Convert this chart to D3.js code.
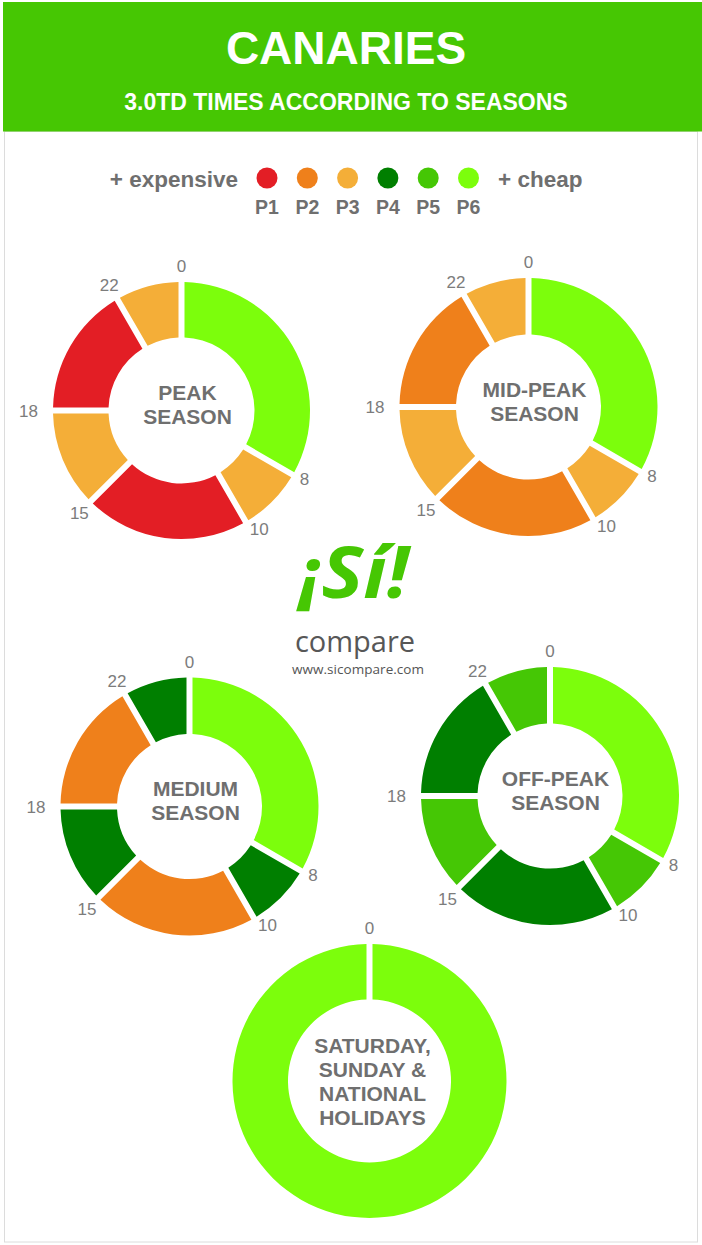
<meta charset="utf-8">
<style>
    body { margin: 0; background: #ffffff; }
    text { font-family: "Liberation Sans", Arial, sans-serif; }
</style>
<body>
<script src="https://d3js.org/d3.v7.min.js"></script>
<script>

    // ---- data ----
    const title = "CANARIES";
    const subtitle = "3.0TD TIMES ACCORDING TO SEASONS";

    const periods = ["P1", "P2", "P3", "P4", "P5", "P6"];
    const periodColors = ["#e31e25", "#ef801b", "#f4ae38", "#007f00", "#45c705", "#7cfe0c"];

    // hour boundaries of the day, the periods between them
    const hourBreaks = [0, 8, 10, 15, 18, 22, 24];
    const peakSeason = ["P6", "P3", "P1", "P3", "P1", "P3"];
    const midPeakSeason = ["P6", "P3", "P2", "P3", "P2", "P3"];
    const mediumSeason = ["P6", "P4", "P2", "P4", "P2", "P4"];
    const offPeakSeason = ["P6", "P5", "P4", "P5", "P4", "P5"];
    const weekendBreaks = [0, 24];
    const weekendPeriods = ["P6"];

    const seasonTitles = [
        ["PEAK", "SEASON"],
        ["MID-PEAK", "SEASON"],
        ["MEDIUM", "SEASON"],
        ["OFF-PEAK", "SEASON"],
        ["SATURDAY,", "SUNDAY &", "NATIONAL", "HOLIDAYS"]
    ];

    // ---- layout ----
    const width = 702, height = 1245;
    const green = "#46c703", grey = "#6f6f6f", labelGrey = "#7c7c7c";

    const donuts = [
        {breaks: hourBreaks, periods: peakSeason, title: seasonTitles[0], cx: 181.5, cy: 410.5, R: 128.5, r: 73, tx: 6, ty: -6},
        {breaks: hourBreaks, periods: midPeakSeason, title: seasonTitles[1], cx: 528.5, cy: 407, R: 129, r: 72.5, tx: 6, ty: -6},
        {breaks: hourBreaks, periods: mediumSeason, title: seasonTitles[2], cx: 189.5, cy: 806.5, R: 129, r: 72.5, tx: 6, ty: -6},
        {breaks: hourBreaks, periods: offPeakSeason, title: seasonTitles[3], cx: 550, cy: 796, R: 129, r: 72.5, tx: 5.5, ty: -6},
        {breaks: weekendBreaks, periods: weekendPeriods, title: seasonTitles[4], cx: 369.5, cy: 1081, R: 137, r: 81.5, tx: 3, ty: 0}
    ];

    let svg = d3.select("body").append("svg")
        .attr("width", width)
        .attr("height", height);

    // frame + header
    svg.append("rect")
        .attr("x", 4.5).attr("y", 131.5)
        .attr("width", 693).attr("height", 1110.5)
        .attr("fill", "none")
        .attr("stroke", "#dcdcdc");

    svg.append("rect")
        .attr("x", 3).attr("y", 2)
        .attr("width", 699).attr("height", 129.5)
        .attr("fill", green);

    svg.append("text")
        .attr("x", 346).attr("y", 63.5)
        .attr("text-anchor", "middle")
        .attr("fill", "#ffffff")
        .style("font-size", "46px")
        .style("font-weight", "bold")
        .text(title);

    svg.append("text")
        .attr("x", 346).attr("y", 109.5)
        .attr("text-anchor", "middle")
        .attr("fill", "#ffffff")
        .style("font-size", "23px")
        .style("font-weight", "bold")
        .text(subtitle);

    // legend
    let colorScale = d3.scaleOrdinal().domain(periods).range(periodColors);
    let legendX = d3.scalePoint().domain(periods).range([267, 468.5]);

    svg.append("text")
        .attr("x", 238).attr("y", 187)
        .attr("text-anchor", "end")
        .attr("fill", grey)
        .style("font-size", "22.5px")
        .style("font-weight", "bold")
        .text("+ expensive");

    svg.append("text")
        .attr("x", 498).attr("y", 187)
        .attr("fill", grey)
        .style("font-size", "22.5px")
        .style("font-weight", "bold")
        .text("+ cheap");

    let legend = svg.selectAll("g.legend")
        .data(periods)
        .join("g")
        .attr("class", "legend")
        .attr("transform", function (d) {
            return "translate(" + legendX(d) + ",0)";
        });

    legend.append("circle")
        .attr("cy", 178)
        .attr("r", 10.5)
        .attr("fill", function (d) { return colorScale(d); });

    legend.append("text")
        .attr("y", 213.5)
        .attr("text-anchor", "middle")
        .attr("fill", grey)
        .style("font-size", "19.5px")
        .style("font-weight", "bold")
        .text(function (d) { return d; });

    // logo
    svg.append("text")
        .attr("x", 354).attr("y", 598)
        .attr("text-anchor", "middle")
        .attr("fill", green)
        .style("font-family", "'Open Sans', sans-serif")
        .style("font-size", "72px")
        .style("font-weight", "bold")
        .style("font-style", "italic")
        .attr("textLength", 110)
        .attr("lengthAdjust", "spacingAndGlyphs")
        .text("¡Sí!");

    svg.append("text")
        .attr("x", 355).attr("y", 651.5)
        .attr("text-anchor", "middle")
        .attr("fill", "#575757")
        .style("font-family", "'Open Sans', sans-serif")
        .style("font-size", "29px")
        .attr("textLength", 120)
        .text("compare");

    svg.append("text")
        .attr("x", 358).attr("y", 674)
        .attr("text-anchor", "middle")
        .attr("fill", "#555555")
        .style("font-family", "'Open Sans', sans-serif")
        .style("font-size", "13.5px")
        .attr("textLength", 132)
        .text("www.sicompare.com");

    // donuts
    let angle = d3.scaleLinear().domain([0, 24]).range([0, 2 * Math.PI]);
    const TAU = 2 * Math.PI;

    donuts.forEach(function (dn) {
        let g = svg.append("g")
            .attr("transform", "translate(" + dn.cx + "," + dn.cy + ")");

        let arc = d3.arc()
            .innerRadius(dn.r)
            .outerRadius(dn.R)
            .padAngle(0.06)
            .padRadius(100);

        let segments = d3.pairs(dn.breaks).map(function (p, i) {
            return {
                startAngle: angle(p[0]),
                endAngle: Math.min(angle(p[1]), TAU - 1e-6),
                period: dn.periods[i]
            };
        });

        g.selectAll("path")
            .data(segments)
            .join("path")
            .attr("d", arc)
            .attr("fill", function (d) { return colorScale(d.period); });

        // hour labels at the boundaries
        let hours = dn.breaks.slice(0, -1);
        g.selectAll("text.hour")
            .data(hours)
            .join("text")
            .attr("class", "hour")
            .each(function (h) {
                let a = angle(h), s = Math.sin(a), c = Math.cos(a);
                let rr, anchor;
                if (s > 0.3) { rr = dn.R + 8; anchor = "start"; }
                else if (s < -0.9) { rr = dn.R + 15; anchor = "end"; }
                else { rr = dn.R + 16; anchor = "middle"; }
                d3.select(this)
                    .attr("x", rr * s)
                    .attr("y", -rr * c)
                    .attr("dy", "0.36em")
                    .attr("text-anchor", anchor);
            })
            .attr("fill", labelGrey)
            .style("font-size", "17px")
            .text(function (h) { return h; });

        // centre title
        let lh = 24;
        let y0 = dn.ty - (dn.title.length - 1) * lh / 2;
        g.append("text")
            .attr("text-anchor", "middle")
            .attr("fill", grey)
            .style("font-size", "21px")
            .style("font-weight", "bold")
            .selectAll("tspan")
            .data(dn.title)
            .join("tspan")
            .attr("x", dn.tx)
            .attr("y", function (d, i) { return y0 + i * lh; })
            .attr("dy", "0.36em")
            .text(function (d) { return d; });
    });

</script>
